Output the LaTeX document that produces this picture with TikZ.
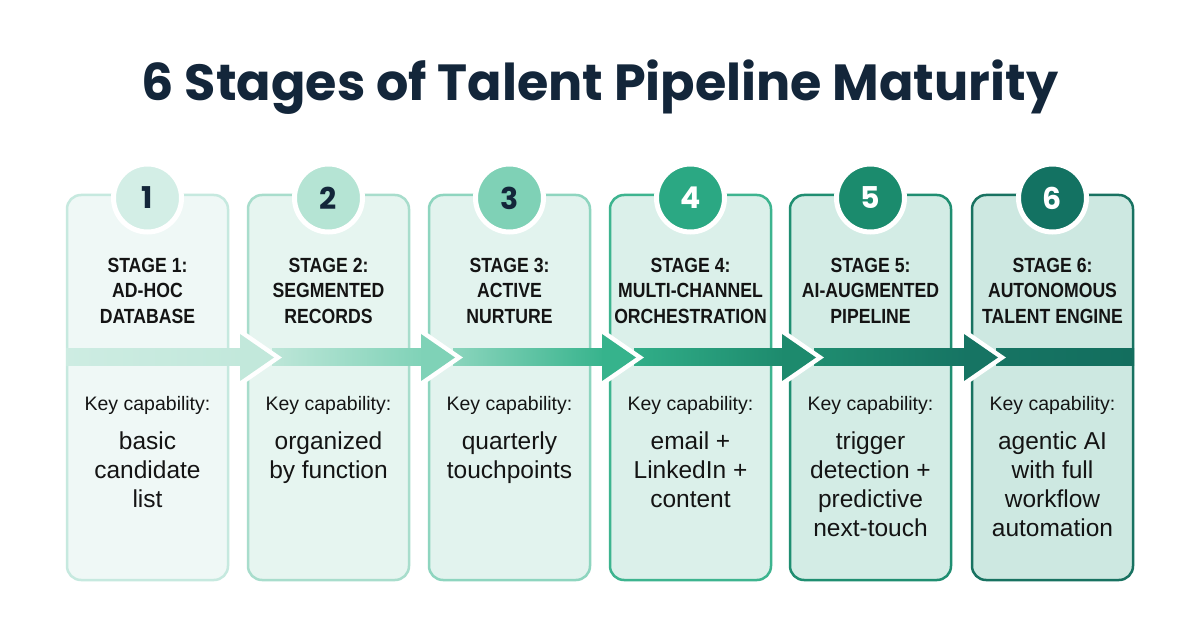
\documentclass[tikz,border=0pt]{standalone}
\usepackage{fontspec}
\setmainfont{Liberation Sans}
\newfontfamily\titlefont{Poppins}
\newfontfamily\condfont[FakeStretch=0.86]{Liberation Sans}
\usetikzlibrary{positioning}

\definecolor{ink}{HTML}{13263A}
\definecolor{txt}{HTML}{141414}
% card fills and borders
\definecolor{cfa}{HTML}{EFF8F6}\definecolor{cba}{HTML}{C6E9DF}
\definecolor{cfb}{HTML}{E6F5F0}\definecolor{cbb}{HTML}{A8DDCC}
\definecolor{cfc}{HTML}{E2F3EE}\definecolor{cbc}{HTML}{8ED5BF}
\definecolor{cfd}{HTML}{DBF0EA}\definecolor{cbd}{HTML}{3DB48F}
\definecolor{cfe}{HTML}{D3ECE5}\definecolor{cbe}{HTML}{1F8E71}
\definecolor{cff}{HTML}{CDE8E1}\definecolor{cbf}{HTML}{187261}
% badges
\definecolor{bga}{HTML}{D3EEE6}
\definecolor{bgb}{HTML}{B5E4D4}
\definecolor{bgc}{HTML}{7FD1B6}
\definecolor{bgd}{HTML}{2BA883}
\definecolor{bge}{HTML}{1B8B6D}
\definecolor{bgf}{HTML}{137262}
% band
\definecolor{bnda}{HTML}{CDECE2}\definecolor{hda}{HTML}{C2E8DB}
\definecolor{bndb}{HTML}{BDE6D8}\definecolor{hdb}{HTML}{7FD2B7}
\definecolor{bndc}{HTML}{8BD5BD}\definecolor{hdc}{HTML}{36B38C}
\definecolor{bndd}{HTML}{31AE88}\definecolor{hdd}{HTML}{1D8A6D}
\definecolor{bnde}{HTML}{1F8D70}\definecolor{hde}{HTML}{167463}
\definecolor{bndf}{HTML}{167463}\definecolor{hdf}{HTML}{136E5E}

\tikzset{
  card/.style={rounded corners=14pt, line width=2.5pt, minimum width=161pt, minimum height=385pt, inner sep=0pt},
  badge/.style={circle, draw=white, line width=5pt, minimum size=68pt, inner sep=0pt,
    font=\titlefont\bfseries\fontsize{30}{30}\selectfont},
  stagetxt/.style={anchor=north, align=center, inner sep=0pt, text=txt,
    font=\condfont\bfseries\fontsize{20.5}{25.5}\selectfont},
  keytxt/.style={anchor=base, inner sep=0pt, text=txt, font=\fontsize{19.5}{24}\selectfont},
  desctxt/.style={anchor=north, align=center, inner sep=0pt, text=txt, font=\fontsize{24.5}{29}\selectfont},
  headline/.style={draw=white, line width=9pt, line join=miter},
}

\begin{document}
\begin{tikzpicture}[x=1pt,y=-1pt]
\useasboundingbox (0,0) rectangle (1200,628);
\fill[white] (0,0) rectangle (1200,628);

\node[anchor=base, inner sep=0pt, text=ink, font=\titlefont\bfseries\fontsize{50.8}{52}\selectfont]
  (title) at (600,101) {6 Stages of Talent Pipeline Maturity};

% cards
\node[card, draw=cba, fill=cfa] (card1) at (147.5,387.5) {};
\node[card, draw=cbb, fill=cfb] (card2) at (328.5,387.5) {};
\node[card, draw=cbc, fill=cfc] (card3) at (509.5,387.5) {};
\node[card, draw=cbd, fill=cfd] (card4) at (690.5,387.5) {};
\node[card, draw=cbe, fill=cfe] (card5) at (870.5,387.5) {};
\node[card, draw=cbf, fill=cff] (card6) at (1052.5,387.5) {};

% band
\shade[left color=bnda, right color=hda] (66,349) rectangle (243,366);
\shade[left color=bndb, right color=hdb] (272,349) rectangle (424,366);
\shade[left color=bndc, right color=hdc] (453,349) rectangle (605,366);
\shade[left color=bndd, right color=hdd] (634,349) rectangle (785,366);
\shade[left color=bnde, right color=hde] (814,349) rectangle (967,366);
\shade[left color=bndf, right color=hdf] (996,349) rectangle (1134,366);

% arrow heads
\draw[headline] (240,334) -- (274,357.5) -- (240,381);
\draw[headline] (421,334) -- (455,357.5) -- (421,381);
\draw[headline] (602,334) -- (636,357.5) -- (602,381);
\draw[headline] (782,334) -- (816,357.5) -- (782,381);
\draw[headline] (964,334) -- (998,357.5) -- (964,381);
\fill[hda] (240,334) -- (274,357.5) -- (240,381) -- cycle;
\fill[hdb] (421,334) -- (455,357.5) -- (421,381) -- cycle;
\fill[hdc] (602,334) -- (636,357.5) -- (602,381) -- cycle;
\fill[hdd] (782,334) -- (816,357.5) -- (782,381) -- cycle;
\fill[hde] (964,334) -- (998,357.5) -- (964,381) -- cycle;

% badges
\node[badge, fill=bga, text=ink] (num1) at (147.5,198) {1};
\node[badge, fill=bgb, text=ink] (num2) at (328.5,198) {2};
\node[badge, fill=bgc, text=ink] (num3) at (509.5,198) {3};
\node[badge, fill=bgd, text=white] (num4) at (690.5,198) {4};
\node[badge, fill=bge, text=white] (num5) at (870.5,198) {5};
\node[badge, fill=bgf, text=white] (num6) at (1052.5,198) {6};

% stage names (strut fixes the first baseline at 272)
\node[stagetxt] (stage1) at (147.5,254.2) {\strut STAGE 1:\\AD-HOC\\DATABASE};
\node[stagetxt] (stage2) at (328.5,254.2) {\strut STAGE 2:\\SEGMENTED\\RECORDS};
\node[stagetxt] (stage3) at (509.5,254.2) {\strut STAGE 3:\\ACTIVE\\NURTURE};
\node[stagetxt] (stage4) at (690.5,254.2) {\strut STAGE 4:\\MULTI-CHANNEL\\ORCHESTRATION};
\node[stagetxt] (stage5) at (870.5,254.2) {\strut STAGE 5:\\AI-AUGMENTED\\PIPELINE};
\node[stagetxt] (stage6) at (1052.5,254.2) {\strut STAGE 6:\\AUTONOMOUS\\TALENT ENGINE};

% capabilities
\node[keytxt] (key1) at (147.5,410) {Key capability:};
\node[keytxt] (key2) at (328.5,410) {Key capability:};
\node[keytxt] (key3) at (509.5,410) {Key capability:};
\node[keytxt] (key4) at (690.5,410) {Key capability:};
\node[keytxt] (key5) at (870.5,410) {Key capability:};
\node[keytxt] (key6) at (1052.5,410) {Key capability:};

\node[desctxt] (desc1) at (147.5,428.7) {\strut basic\\candidate\\list};
\node[desctxt] (desc2) at (328.5,428.7) {\strut organized\\by function};
\node[desctxt] (desc3) at (509.5,428.7) {\strut quarterly\\touchpoints};
\node[desctxt] (desc4) at (690.5,428.7) {\strut email +\\LinkedIn +\\content};
\node[desctxt] (desc5) at (870.5,428.7) {\strut trigger\\detection +\\predictive\\next-touch};
\node[desctxt] (desc6) at (1052.5,428.7) {\strut agentic AI\\with full\\workflow\\automation};
\end{tikzpicture}
\end{document}
